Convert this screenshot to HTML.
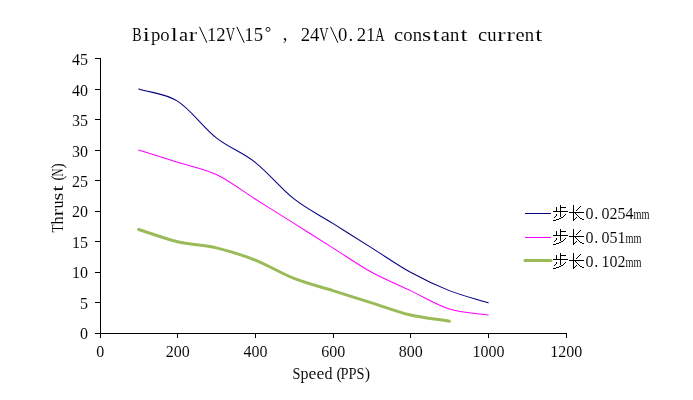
<!DOCTYPE html>
<html><head><meta charset="utf-8"><title>Chart</title>
<style>html,body{margin:0;padding:0;background:#fff;overflow:hidden;}svg{display:block;position:absolute;left:0;top:0;will-change:transform;}text{font-family:"Liberation Serif",serif;}</style></head>
<body>
<svg width="693" height="400" viewBox="0 0 693 400">
<rect width="693" height="400" fill="#fff"/>
<path d="M100.5 58.0 V337.5 M95.0 333.5 H567.0 M95.0 302.5 H100.5 M95.0 272.5 H100.5 M95.0 241.5 H100.5 M95.0 211.5 H100.5 M95.0 180.5 H100.5 M95.0 150.5 H100.5 M95.0 119.5 H100.5 M95.0 89.5 H100.5 M95.0 58.5 H100.5 M177.5 333.5 V338.0 M255.5 333.5 V338.0 M333.5 333.5 V338.0 M410.5 333.5 V338.0 M488.5 333.5 V338.0 M566.5 333.5 V338.0" stroke="#000" stroke-width="1" fill="none" shape-rendering="crispEdges"/>
<g font-size="16.00" text-anchor="middle" fill="#000" stroke="#fff" stroke-width="0.06" ><text x="84.00" y="339.20">0</text></g>
<g font-size="16.00" text-anchor="middle" fill="#000" stroke="#fff" stroke-width="0.06" ><text x="84.00" y="308.76">5</text></g>
<g font-size="16.00" text-anchor="middle" fill="#000" stroke="#fff" stroke-width="0.06" ><text x="76.00" y="278.31">1</text><text x="84.00" y="278.31">0</text></g>
<g font-size="16.00" text-anchor="middle" fill="#000" stroke="#fff" stroke-width="0.06" ><text x="76.00" y="247.87">1</text><text x="84.00" y="247.87">5</text></g>
<g font-size="16.00" text-anchor="middle" fill="#000" stroke="#fff" stroke-width="0.06" ><text x="76.00" y="217.42">2</text><text x="84.00" y="217.42">0</text></g>
<g font-size="16.00" text-anchor="middle" fill="#000" stroke="#fff" stroke-width="0.06" ><text x="76.00" y="186.98">2</text><text x="84.00" y="186.98">5</text></g>
<g font-size="16.00" text-anchor="middle" fill="#000" stroke="#fff" stroke-width="0.06" ><text x="76.00" y="156.54">3</text><text x="84.00" y="156.54">0</text></g>
<g font-size="16.00" text-anchor="middle" fill="#000" stroke="#fff" stroke-width="0.06" ><text x="76.00" y="126.09">3</text><text x="84.00" y="126.09">5</text></g>
<g font-size="16.00" text-anchor="middle" fill="#000" stroke="#fff" stroke-width="0.06" ><text x="76.00" y="95.65">4</text><text x="84.00" y="95.65">0</text></g>
<g font-size="16.00" text-anchor="middle" fill="#000" stroke="#fff" stroke-width="0.06" ><text x="76.00" y="65.20">4</text><text x="84.00" y="65.20">5</text></g>
<g font-size="16.00" text-anchor="middle" fill="#000" stroke="#fff" stroke-width="0.06" ><text x="100.20" y="357.30">0</text></g>
<g font-size="16.00" text-anchor="middle" fill="#000" stroke="#fff" stroke-width="0.06" ><text x="169.87" y="357.30">2</text><text x="177.87" y="357.30">0</text><text x="185.87" y="357.30">0</text></g>
<g font-size="16.00" text-anchor="middle" fill="#000" stroke="#fff" stroke-width="0.06" ><text x="247.53" y="357.30">4</text><text x="255.53" y="357.30">0</text><text x="263.53" y="357.30">0</text></g>
<g font-size="16.00" text-anchor="middle" fill="#000" stroke="#fff" stroke-width="0.06" ><text x="325.20" y="357.30">6</text><text x="333.20" y="357.30">0</text><text x="341.20" y="357.30">0</text></g>
<g font-size="16.00" text-anchor="middle" fill="#000" stroke="#fff" stroke-width="0.06" ><text x="402.87" y="357.30">8</text><text x="410.87" y="357.30">0</text><text x="418.87" y="357.30">0</text></g>
<g font-size="16.00" text-anchor="middle" fill="#000" stroke="#fff" stroke-width="0.06" ><text x="476.53" y="357.30">1</text><text x="484.53" y="357.30">0</text><text x="492.53" y="357.30">0</text><text x="500.53" y="357.30">0</text></g>
<g font-size="16.00" text-anchor="middle" fill="#000" stroke="#fff" stroke-width="0.06" ><text x="554.20" y="357.30">1</text><text x="562.20" y="357.30">2</text><text x="570.20" y="357.30">0</text><text x="578.20" y="357.30">0</text></g>
<g font-size="16.00" text-anchor="middle" fill="#000" stroke="#fff" stroke-width="0.06" ><text transform="translate(296.50 379.00) scale(0.899 1)">S</text><text x="304.50" y="379.00">p</text><text transform="translate(312.50 379.00) scale(1.104 1)">e</text><text transform="translate(320.50 379.00) scale(1.104 1)">e</text><text x="328.50" y="379.00">d</text><text x="339.14" y="379.00">(</text><text transform="translate(344.50 379.00) scale(0.899 1)">P</text><text transform="translate(352.50 379.00) scale(0.899 1)">P</text><text transform="translate(360.50 379.00) scale(0.899 1)">S</text><text x="367.30" y="379.00">)</text></g>
<g transform="translate(63.1,232.6) rotate(-90)"><g font-size="16.00" text-anchor="middle" fill="#000" stroke="#fff" stroke-width="0.06" ><text transform="translate(4.00 0.00) scale(0.819 1)">T</text><text x="12.00" y="0.00">h</text><text transform="translate(20.00 0.00) scale(1.350 1)">r</text><text x="28.00" y="0.00">u</text><text transform="translate(36.00 0.00) scale(1.259 1)">s</text><text transform="translate(44.00 0.00) scale(1.350 1)">t</text><text x="54.64" y="0.00">(</text><text transform="translate(60.00 0.00) scale(0.692 1)">N</text><text x="66.80" y="0.00">)</text></g></g>
<g font-size="18.67" text-anchor="middle" fill="#000" stroke="#fff" stroke-width="0.06" ><text transform="translate(136.97 40.70) scale(0.750 1)">B</text><text transform="translate(146.30 40.70) scale(1.350 1)">i</text><text x="155.63" y="40.70">p</text><text x="164.97" y="40.70">o</text><text transform="translate(174.30 40.70) scale(1.350 1)">l</text><text transform="translate(183.63 40.70) scale(1.104 1)">a</text><text transform="translate(192.96 40.70) scale(1.350 1)">r</text><path d="M199.53 26.80L206.83 42.70" stroke="#000" stroke-width="1" fill="none"/><text x="211.63" y="40.70">1</text><text x="220.96" y="40.70">2</text><text transform="translate(230.30 40.70) scale(0.692 1)">V</text><path d="M236.86 26.80L244.16 42.70" stroke="#000" stroke-width="1" fill="none"/><text x="248.96" y="40.70">1</text><text x="258.30" y="40.70">5</text></g>
<circle cx="268" cy="29.4" r="2" fill="none" stroke="#000" stroke-width="0.9"/>
<g font-size="18.67" text-anchor="middle" fill="#000" stroke="#fff" stroke-width="0.06" ><text x="285.06" y="40.00">,</text></g>
<g font-size="18.67" text-anchor="middle" fill="#000" stroke="#fff" stroke-width="0.06" ><text x="305.36" y="40.70">2</text><text x="314.69" y="40.70">4</text><text transform="translate(324.03 40.70) scale(0.692 1)">V</text><path d="M330.59 26.80L337.89 42.70" stroke="#000" stroke-width="1" fill="none"/><text x="342.69" y="40.70">0</text><text x="350.72" y="40.70">.</text><text x="361.36" y="40.70">2</text><text x="370.69" y="40.70">1</text><text transform="translate(380.02 40.70) scale(0.692 1)">A</text><text transform="translate(398.69 40.70) scale(1.104 1)">c</text><text x="408.02" y="40.70">o</text><text x="417.36" y="40.70">n</text><text transform="translate(426.69 40.70) scale(1.259 1)">s</text><text transform="translate(436.02 40.70) scale(1.350 1)">t</text><text transform="translate(445.36 40.70) scale(1.104 1)">a</text><text x="454.69" y="40.70">n</text><text transform="translate(464.02 40.70) scale(1.350 1)">t</text><text transform="translate(482.69 40.70) scale(1.104 1)">c</text><text x="492.02" y="40.70">u</text><text transform="translate(501.35 40.70) scale(1.350 1)">r</text><text transform="translate(510.69 40.70) scale(1.350 1)">r</text><text transform="translate(520.02 40.70) scale(1.104 1)">e</text><text x="529.35" y="40.70">n</text><text transform="translate(538.69 40.70) scale(1.350 1)">t</text></g>
<path d="M138.68 88.96 C151.63 93.03 164.57 93.03 177.52 101.18 C190.46 109.33 203.41 127.66 216.35 137.84 C229.29 148.03 242.24 152.10 255.18 162.29 C268.13 172.47 281.07 188.77 294.02 198.96 C306.96 209.14 319.91 215.25 332.85 223.40 C345.79 231.55 358.74 239.70 371.68 247.84 C384.63 255.99 397.57 265.16 410.52 272.29 C423.46 279.42 436.41 285.53 449.35 290.62 C462.29 295.71 475.24 298.77 488.18 302.84" stroke="#000080" stroke-width="1.05" fill="none" stroke-linecap="round"/>
<path d="M138.68 150.07 C151.63 154.14 164.57 158.21 177.52 162.29 C190.46 166.36 203.41 168.40 216.35 174.51 C229.29 180.62 242.24 190.81 255.18 198.96 C268.13 207.10 281.07 215.25 294.02 223.40 C306.96 231.55 319.91 239.70 332.85 247.84 C345.79 255.99 358.74 265.16 371.68 272.29 C384.63 279.42 397.57 284.51 410.52 290.62 C423.46 296.73 436.41 304.88 449.35 308.96 C462.29 313.03 475.24 313.03 488.18 315.07" stroke="#ff00ff" stroke-width="1.05" fill="none" stroke-linecap="round"/>
<path d="M138.68 229.51 C151.63 233.59 164.57 238.68 177.52 241.73 C190.46 244.79 203.41 244.79 216.35 247.84 C229.29 250.90 242.24 254.97 255.18 260.07 C268.13 265.16 281.07 273.31 294.02 278.40 C306.96 283.49 319.91 286.55 332.85 290.62 C345.79 294.70 358.74 298.77 371.68 302.84 C384.63 306.92 397.57 312.01 410.52 315.07 C423.46 318.12 436.41 319.14 449.35 321.18" stroke="#9bbb59" stroke-width="3" fill="none" stroke-linecap="round"/>
<path d="M525 213.5 H551" stroke="#000080" stroke-width="1" fill="none"/>
<path d="M560 205h1v1h-1zM560 206h1v1h-1zM556 207h1v1h-1zM560 207h6v1h-6zM556 208h1v1h-1zM560 208h1v1h-1zM556 209h1v1h-1zM560 209h1v1h-1zM556 210h1v1h-1zM560 210h1v1h-1zM553 211h15v1h-15zM560 212h1v1h-1zM560 213h1v1h-1zM556 214h1v1h-1zM560 214h1v1h-1zM565 214h1v1h-1zM556 215h1v1h-1zM560 215h1v1h-1zM564 215h1v1h-1zM555 216h1v1h-1zM560 216h1v1h-1zM563 216h1v1h-1zM554 217h1v1h-1zM561 217h2v1h-2zM559 218h2v1h-2zM556 219h3v1h-3zM553 220h3v1h-3zM573 205h1v1h-1zM573 206h1v1h-1zM580 206h1v1h-1zM573 207h1v1h-1zM579 207h1v1h-1zM573 208h1v1h-1zM578 208h1v1h-1zM573 209h1v1h-1zM577 209h1v1h-1zM573 210h1v1h-1zM576 210h1v1h-1zM573 211h1v1h-1zM569 212h15v1h-15zM573 213h1v1h-1zM575 213h1v1h-1zM573 214h1v1h-1zM576 214h1v1h-1zM573 215h1v1h-1zM577 215h1v1h-1zM573 216h1v1h-1zM578 216h1v1h-1zM573 217h1v1h-1zM576 217h1v1h-1zM579 217h1v1h-1zM573 218h1v1h-1zM575 218h1v1h-1zM580 218h2v1h-2zM573 219h2v1h-2zM582 219h2v1h-2zM573 220h1v1h-1z" fill="#000" shape-rendering="crispEdges"/>
<g font-size="16.00" text-anchor="middle" fill="#000" stroke="#fff" stroke-width="0.06" ><text x="589.40" y="219.20">0</text><text x="596.28" y="219.20">.</text><text x="605.40" y="219.20">0</text><text x="613.40" y="219.20">2</text><text x="621.40" y="219.20">5</text><text x="629.40" y="219.20">4</text><text transform="translate(637.40 219.20) scale(0.643 0.88)">m</text><text transform="translate(645.40 219.20) scale(0.643 0.88)">m</text></g>
<path d="M525 237.5 H551" stroke="#ff00ff" stroke-width="1" fill="none"/>
<path d="M560 229h1v1h-1zM560 230h1v1h-1zM556 231h1v1h-1zM560 231h6v1h-6zM556 232h1v1h-1zM560 232h1v1h-1zM556 233h1v1h-1zM560 233h1v1h-1zM556 234h1v1h-1zM560 234h1v1h-1zM553 235h15v1h-15zM560 236h1v1h-1zM560 237h1v1h-1zM556 238h1v1h-1zM560 238h1v1h-1zM565 238h1v1h-1zM556 239h1v1h-1zM560 239h1v1h-1zM564 239h1v1h-1zM555 240h1v1h-1zM560 240h1v1h-1zM563 240h1v1h-1zM554 241h1v1h-1zM561 241h2v1h-2zM559 242h2v1h-2zM556 243h3v1h-3zM553 244h3v1h-3zM573 229h1v1h-1zM573 230h1v1h-1zM580 230h1v1h-1zM573 231h1v1h-1zM579 231h1v1h-1zM573 232h1v1h-1zM578 232h1v1h-1zM573 233h1v1h-1zM577 233h1v1h-1zM573 234h1v1h-1zM576 234h1v1h-1zM573 235h1v1h-1zM569 236h15v1h-15zM573 237h1v1h-1zM575 237h1v1h-1zM573 238h1v1h-1zM576 238h1v1h-1zM573 239h1v1h-1zM577 239h1v1h-1zM573 240h1v1h-1zM578 240h1v1h-1zM573 241h1v1h-1zM576 241h1v1h-1zM579 241h1v1h-1zM573 242h1v1h-1zM575 242h1v1h-1zM580 242h2v1h-2zM573 243h2v1h-2zM582 243h2v1h-2zM573 244h1v1h-1z" fill="#000" shape-rendering="crispEdges"/>
<g font-size="16.00" text-anchor="middle" fill="#000" stroke="#fff" stroke-width="0.06" ><text x="589.40" y="243.20">0</text><text x="596.28" y="243.20">.</text><text x="605.40" y="243.20">0</text><text x="613.40" y="243.20">5</text><text x="621.40" y="243.20">1</text><text transform="translate(629.40 243.20) scale(0.643 0.88)">m</text><text transform="translate(637.40 243.20) scale(0.643 0.88)">m</text></g>
<path d="M525 260.5 H551" stroke="#9bbb59" stroke-width="3" fill="none" stroke-linecap="round"/>
<path d="M560 253h1v1h-1zM560 254h1v1h-1zM556 255h1v1h-1zM560 255h6v1h-6zM556 256h1v1h-1zM560 256h1v1h-1zM556 257h1v1h-1zM560 257h1v1h-1zM556 258h1v1h-1zM560 258h1v1h-1zM553 259h15v1h-15zM560 260h1v1h-1zM560 261h1v1h-1zM556 262h1v1h-1zM560 262h1v1h-1zM565 262h1v1h-1zM556 263h1v1h-1zM560 263h1v1h-1zM564 263h1v1h-1zM555 264h1v1h-1zM560 264h1v1h-1zM563 264h1v1h-1zM554 265h1v1h-1zM561 265h2v1h-2zM559 266h2v1h-2zM556 267h3v1h-3zM553 268h3v1h-3zM573 253h1v1h-1zM573 254h1v1h-1zM580 254h1v1h-1zM573 255h1v1h-1zM579 255h1v1h-1zM573 256h1v1h-1zM578 256h1v1h-1zM573 257h1v1h-1zM577 257h1v1h-1zM573 258h1v1h-1zM576 258h1v1h-1zM573 259h1v1h-1zM569 260h15v1h-15zM573 261h1v1h-1zM575 261h1v1h-1zM573 262h1v1h-1zM576 262h1v1h-1zM573 263h1v1h-1zM577 263h1v1h-1zM573 264h1v1h-1zM578 264h1v1h-1zM573 265h1v1h-1zM576 265h1v1h-1zM579 265h1v1h-1zM573 266h1v1h-1zM575 266h1v1h-1zM580 266h2v1h-2zM573 267h2v1h-2zM582 267h2v1h-2zM573 268h1v1h-1z" fill="#000" shape-rendering="crispEdges"/>
<g font-size="16.00" text-anchor="middle" fill="#000" stroke="#fff" stroke-width="0.06" ><text x="589.40" y="267.20">0</text><text x="596.28" y="267.20">.</text><text x="605.40" y="267.20">1</text><text x="613.40" y="267.20">0</text><text x="621.40" y="267.20">2</text><text transform="translate(629.40 267.20) scale(0.643 0.88)">m</text><text transform="translate(637.40 267.20) scale(0.643 0.88)">m</text></g>
</svg>
</body></html>
